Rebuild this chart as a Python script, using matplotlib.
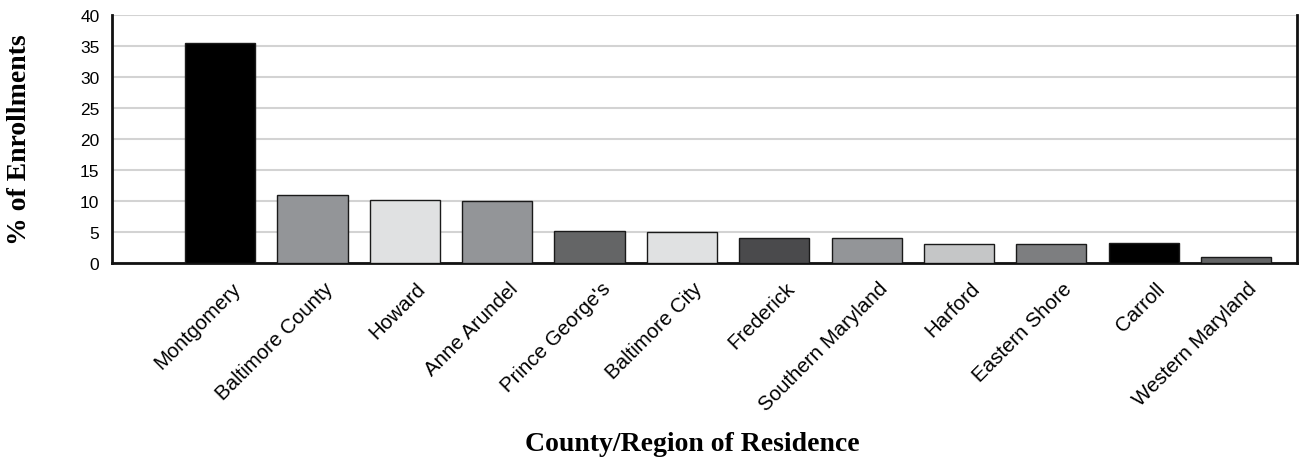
import matplotlib
matplotlib.use("Agg")
import matplotlib.pyplot as plt
from matplotlib.transforms import ScaledTranslation

categories = ["Montgomery", "Baltimore County", "Howard", "Anne Arundel",
              "Prince George's", "Baltimore City", "Frederick", "Southern Maryland",
              "Harford", "Eastern Shore", "Carroll", "Western Maryland"]
values = [35.5, 11.0, 10.1, 10.0, 5.1, 5.0, 4.1, 4.1, 3.1, 3.1, 3.2, 1.0]
colors = ["#000000", "#939598", "#e0e1e2", "#939598", "#646566", "#e0e1e2",
          "#4a4a4c", "#939598", "#c5c6c7", "#7d7e80", "#000000", "#646566"]
yticks = [0, 5, 10, 15, 20, 25, 30, 35, 40]

fig = plt.figure(figsize=(12.99, 4.60), dpi=100)
ax = fig.add_axes([0.0862, 0.4261, 0.9123, 0.5398])

x = list(range(len(categories)))
ax.bar(x, values, width=0.76, color=colors, edgecolor="#1a1a1a", linewidth=1.0, zorder=3)

ax.set_ylim(0, 40)
ax.set_xlim(-1.17, 11.66)
ax.set_yticks(yticks)
ax.set_yticklabels([str(t) for t in yticks], fontsize=12.5, family="Liberation Sans")
ax.yaxis.grid(True, color="#d3d3d3", linewidth=1.5, zorder=0)
ax.set_axisbelow(True)
ax.tick_params(axis="both", length=0)
ax.tick_params(axis="y", pad=9)

ax.set_xticks(x)
ax.set_xticklabels(categories, rotation=45, ha="right", va="top",
                   rotation_mode="anchor", fontsize=14.8, family="Liberation Sans")
ax.tick_params(axis="x", pad=11)
offset = ScaledTranslation(11 / 100, 0, fig.dpi_scale_trans)
for lbl in ax.get_xticklabels():
    lbl.set_transform(lbl.get_transform() + offset)

for side in ["left", "bottom", "right"]:
    ax.spines[side].set_linewidth(2.0)
    ax.spines[side].set_color("#111111")
ax.spines["top"].set_visible(False)

ax.set_ylabel("% of Enrollments", fontsize=20, fontweight="bold",
              family="Liberation Serif")
ax.set_xlabel("County/Region of Residence", fontsize=20, fontweight="bold",
              family="Liberation Serif")
ax.yaxis.set_label_coords(-0.0675, 0.5)
ax.xaxis.set_label_coords(0.49, -0.678)

fig.savefig("out.png", dpi=100)
